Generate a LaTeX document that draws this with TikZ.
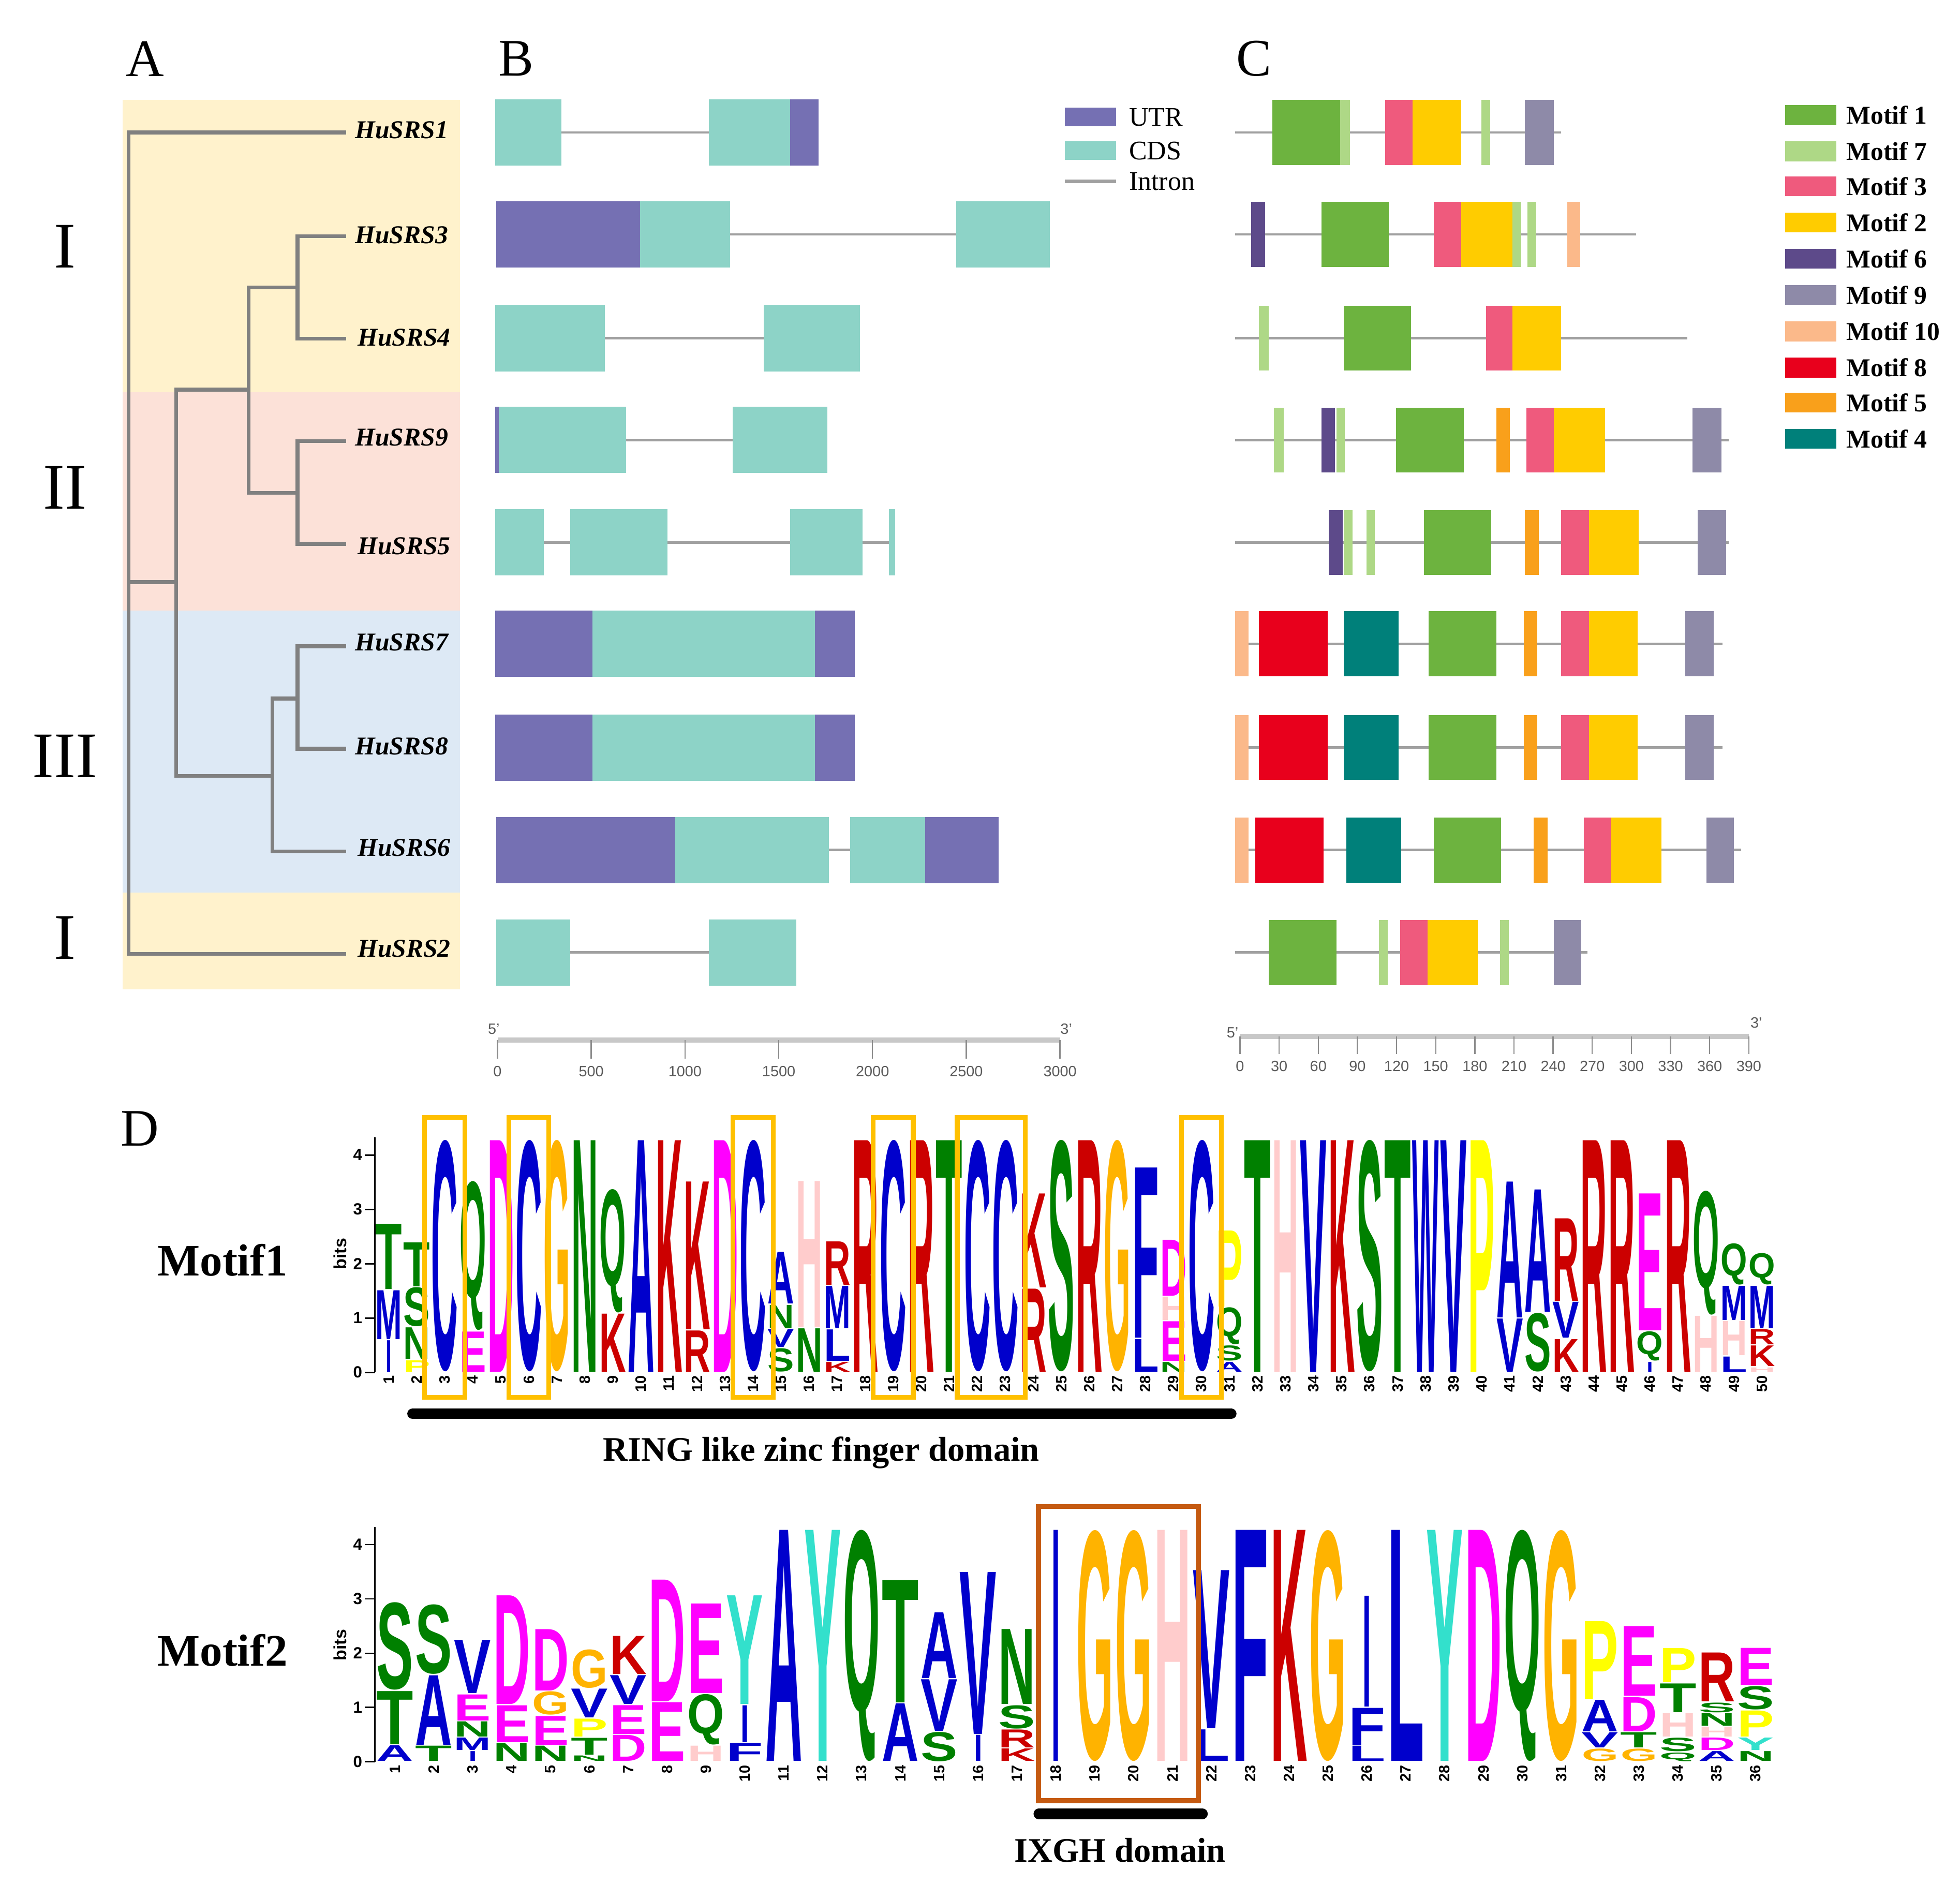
\documentclass[tikz,border=0pt]{standalone}
\usepackage{fontspec}
\usepackage{graphicx}
\setmainfont{Liberation Serif}
\setsansfont{Liberation Sans}
\newlength\un \setlength\un{0.25mm}
\newcommand\fs[1]{\fontsize{#1}{#1}\selectfont}
% logo colours
\definecolor{lb}{RGB}{0,0,204}
\definecolor{lg}{RGB}{0,128,0}
\definecolor{lr}{RGB}{204,0,0}
\definecolor{lm}{RGB}{255,0,255}
\definecolor{lo}{RGB}{255,179,0}
\definecolor{ly}{RGB}{255,255,0}
\definecolor{lp}{RGB}{255,204,204}
\definecolor{lt}{RGB}{51,224,204}
% other colours
\definecolor{bgY}{RGB}{255,242,204}
\definecolor{bgP}{RGB}{252,225,216}
\definecolor{bgB}{RGB}{221,233,245}
\definecolor{treegray}{RGB}{128,128,128}
\definecolor{utr}{RGB}{117,112,179}
\definecolor{cds}{RGB}{141,211,199}
\definecolor{introngray}{RGB}{160,160,160}
\definecolor{axgray}{RGB}{200,200,200}
\definecolor{tickgray}{RGB}{140,140,140}
\definecolor{axtext}{RGB}{90,90,90}
\definecolor{mA}{RGB}{109,179,63}
\definecolor{mG}{RGB}{174,216,134}
\definecolor{mC}{RGB}{239,90,125}
\definecolor{mB}{RGB}{255,204,0}
\definecolor{mF}{RGB}{93,74,138}
\definecolor{mI}{RGB}{142,138,168}
\definecolor{mJ}{RGB}{251,185,138}
\definecolor{mH}{RGB}{232,0,28}
\definecolor{mE}{RGB}{249,160,27}
\definecolor{mD}{RGB}{0,128,122}
\definecolor{boxO}{RGB}{255,192,0}
\definecolor{boxBr}{RGB}{197,90,17}
\tikzset{
  tree/.style={draw=treegray, line width=0.75mm},
  leaf/.style={font=\bfseries\itshape\fs{14.6}, anchor=west, inner sep=0pt},
  panel/.style={font=\fs{30}, inner sep=0pt},
  roman/.style={font=\fs{37}, inner sep=0pt},
  intron/.style={draw=introngray, line width=0.5mm},
  axisline/.style={draw=axgray, line width=1mm},
  tickline/.style={draw=tickgray, line width=0.25mm},
  axlab/.style={font=\sffamily\fs{8.5}, text=axtext, inner sep=0pt},
  legB/.style={font=\fs{15.3}, anchor=west, inner sep=0pt},
  legC/.style={font=\bfseries\fs{14.6}, anchor=west, inner sep=0pt},
  posn/.style={rotate=90, anchor=east, font=\sffamily\bfseries\fs{8.5}, inner sep=0pt},
  ticklab/.style={anchor=east, font=\sffamily\bfseries\fs{9.2}, inner sep=0pt},
  bitslab/.style={rotate=90, font=\sffamily\bfseries\fs{10}, inner sep=0pt},
  motiflab/.style={font=\bfseries\fs{25.6}, inner sep=0pt},
  domlab/.style={font=\bfseries\fs{19.6}, inner sep=0pt, text depth=0pt},
  obox/.style={draw=boxO, line width=0.95mm},
  bbox/.style={draw=boxBr, line width=1mm},
  dombar/.style={draw=black, line width=2.1mm, line cap=round},
}
% gene structure helpers
\newcommand\ex[4]{\fill[#1] (#2,#4-26.5) rectangle (#3,#4+26.5);}
\newcommand\mot[4]{\fill[#1] (#2,#4-26) rectangle (#3,#4+26);}
% logo column
\newcommand\logocol[4]{%
  \gdef\cumh{0}%
  \foreach \LHh/\LCc/\LLl in {#4}{%
    \ifnum\strcmp{\LLl}{I}=0 \def\wf{0.22}\else\def\wf{0.95}\fi
    \pgfmathsetmacro\ww{#3*\wf}%
    \pgfmathsetmacro\yb{#2-\cumh*43.45-0.45}%
    \pgfmathsetmacro\hp{max(\LHh*43.45-0.9,0.5)}%
    \node[inner sep=0pt,outer sep=0pt,anchor=south west,text=\LCc] at ({#1-\ww/2},\yb) {\resizebox*{\ww\un}{\hp\un}{\sffamily\bfseries\LLl}};%
    \pgfmathparse{\cumh+\LHh}\xdef\cumh{\pgfmathresult}%
  }%
}
\newcommand\mA[2]{\pgfmathsetmacro\xc{311+(#1-1)*22.42}\logocol{\xc}{1097.8}{22.42}{#2}\node[posn] (pa#1) at (\xc,1100) {#1};}
\newcommand\mB[2]{\pgfmathsetmacro\xc{316+(#1-1)*31.1}\logocol{\xc}{1409.4}{31.1}{#2}\node[posn] (pb#1) at (\xc,1412) {#1};}
\newcommand\yax[2]{%
  \draw[line width=0.3mm] (300,#1) -- (300,#1-188);
  \foreach \k in {0,...,4}{%
    \draw[line width=0.3mm] (292,#1-\k*43.45) -- (300,#1-\k*43.45);
    \node[ticklab] (t#2\k) at (290,#1-\k*43.45) {\k};}
}
\begin{document}
\begin{tikzpicture}[x=0.25mm,y=-0.25mm]
\useasboundingbox (0,0) rectangle (1568,1507);
\fill[white] (0,0) rectangle (1568,1507);

% ---------- panel labels
\node[panel] (lA) at (116,47) {A};
\node[panel] (lB) at (413,47) {B};
\node[panel] (lC) at (1003,47) {C};
\node[panel] (lD) at (112,903) {D};

% ---------- panel A backgrounds
\fill[bgY] (98,80) rectangle (368,313.7);
\fill[bgP] (98,313.7) rectangle (368,488.5);
\fill[bgB] (98,488.5) rectangle (368,714.2);
\fill[bgY] (98,714.2) rectangle (368,791.6);

\node[roman] (rI1) at (52,197) {I};
\node[roman] (rII) at (52,390) {II};
\node[roman] (rIII) at (52,605) {III};
\node[roman] (rI2) at (52,750) {I};

% tree
\coordinate (R) at (103,465.7);
\coordinate (N1) at (141,465.7);
\coordinate (N2) at (199,311.7);
\coordinate (N3) at (218,620.6);
\coordinate (N34) at (238,230);
\coordinate (N95) at (238,394.4);
\coordinate (N78) at (238,558.8);
\coordinate (e1) at (277,106);
\coordinate (e3) at (277,189);
\coordinate (e4) at (277,271);
\coordinate (e9) at (277,353);
\coordinate (e5) at (277,435);
\coordinate (e7) at (277,517);
\coordinate (e8) at (277,599);
\coordinate (e6) at (277,681);
\coordinate (e2) at (277,763);
\draw[tree] (R) |- (e1);
\draw[tree] (R) |- (e2);
\draw[tree] (R) -- (N1);
\draw[tree] (N1) |- (N2);
\draw[tree] (N1) |- (N3);
\draw[tree] (N2) |- (N34);
\draw[tree] (N2) |- (N95);
\draw[tree] (N34) |- (e3);
\draw[tree] (N34) |- (e4);
\draw[tree] (N95) |- (e9);
\draw[tree] (N95) |- (e5);
\draw[tree] (N3) |- (N78);
\draw[tree] (N3) |- (e6);
\draw[tree] (N78) |- (e7);
\draw[tree] (N78) |- (e8);
\node[leaf] (g1) at (284,104) {HuSRS1};
\node[leaf] (g3) at (284,188) {HuSRS3};
\node[leaf] (g4) at (286,270) {HuSRS4};
\node[leaf] (g9) at (284,350) {HuSRS9};
\node[leaf] (g5) at (286,437) {HuSRS5};
\node[leaf] (g7) at (284,514) {HuSRS7};
\node[leaf] (g8) at (284,597) {HuSRS8};
\node[leaf] (g6) at (286,678) {HuSRS6};
\node[leaf] (g2) at (286,759) {HuSRS2};

% ---------- panel B gene structures
% row 1
\draw[intron] (449,106) -- (567,106);
\ex{cds}{396}{449}{106}\ex{cds}{567}{632}{106}\ex{utr}{632}{655}{106}
% row 3
\draw[intron] (584,187.5) -- (765,187.5);
\ex{utr}{397}{512}{187.5}\ex{cds}{512}{584}{187.5}\ex{cds}{765}{840}{187.5}
% row 4
\draw[intron] (484,270.5) -- (611,270.5);
\ex{cds}{396}{484}{270.5}\ex{cds}{611}{688}{270.5}
% row 9
\draw[intron] (501,352) -- (586,352);
\ex{utr}{396}{399}{352}\ex{cds}{399}{501}{352}\ex{cds}{586}{662}{352}
% row 5
\draw[intron] (435,434) -- (711,434);
\ex{cds}{396}{435}{434}\ex{cds}{456}{534}{434}\ex{cds}{632}{690}{434}\ex{cds}{711}{716}{434}
% row 7
\ex{utr}{396}{474}{515}\ex{cds}{474}{652}{515}\ex{utr}{652}{684}{515}
% row 8
\ex{utr}{396}{474}{598}\ex{cds}{474}{652}{598}\ex{utr}{652}{684}{598}
% row 6
\draw[intron] (663,680) -- (680,680);
\ex{utr}{397}{540}{680}\ex{cds}{540}{663}{680}\ex{cds}{680}{740}{680}\ex{utr}{740}{799}{680}
% row 2
\draw[intron] (456,762) -- (567,762);
\ex{cds}{397}{456}{762}\ex{cds}{567}{637}{762}

% legend B
\fill[utr] (852,86) rectangle (893,101);
\fill[cds] (852,113) rectangle (893,128);
\draw[introngray, line width=0.75mm] (852,145) -- (893,145);
\node[legB] (lutr) at (903,94) {UTR};
\node[legB] (lcds) at (903,120.5) {CDS};
\node[legB] (lint) at (903,145) {Intron};

% axis B
\draw[axisline] (398,832) -- (848,832);
\foreach \v [count=\i from 0] in {0,500,1000,1500,2000,2500,3000}{
  \draw[tickline] (398+\i*75,832) -- (398+\i*75,847);
  \node[axlab] (bx\i) at (398+\i*75,857) {\v};
}
\node[axlab] (b5) at (395,823) {5'};
\node[axlab] (b3) at (853,823) {3'};

% ---------- panel C motifs
% row 1
\draw[intron] (988,106) -- (1249,106);
\mot{mA}{1018}{1072}{106}\mot{mG}{1072}{1080}{106}\mot{mC}{1108}{1130}{106}\mot{mB}{1130}{1169}{106}\mot{mG}{1185}{1192}{106}\mot{mI}{1220}{1243}{106}
% row 3
\draw[intron] (988,187.5) -- (1309,187.5);
\mot{mF}{1001}{1012}{187.5}\mot{mA}{1057}{1111}{187.5}\mot{mC}{1147}{1169}{187.5}\mot{mB}{1169}{1210}{187.5}\mot{mG}{1210}{1217}{187.5}\mot{mG}{1222}{1229}{187.5}\mot{mJ}{1254}{1264}{187.5}
% row 4
\draw[intron] (988,270.5) -- (1350,270.5);
\mot{mG}{1007}{1015}{270.5}\mot{mA}{1075}{1129}{270.5}\mot{mC}{1189}{1210}{270.5}\mot{mB}{1210}{1249}{270.5}
% row 9
\draw[intron] (988,352) -- (1383,352);
\mot{mG}{1019}{1027}{352}\mot{mF}{1057}{1068}{352}\mot{mG}{1069}{1076}{352}\mot{mA}{1117}{1171}{352}\mot{mE}{1197}{1208}{352}\mot{mC}{1221}{1243}{352}\mot{mB}{1243}{1284}{352}\mot{mI}{1354}{1377}{352}
% row 5
\draw[intron] (988,434) -- (1383,434);
\mot{mF}{1063}{1074}{434}\mot{mG}{1075}{1082}{434}\mot{mG}{1093}{1100}{434}\mot{mA}{1139}{1193}{434}\mot{mE}{1220}{1231}{434}\mot{mC}{1249}{1271}{434}\mot{mB}{1271}{1311}{434}\mot{mI}{1358}{1381}{434}
% row 7
\draw[intron] (988,515) -- (1378,515);
\mot{mJ}{988}{999}{515}\mot{mH}{1007}{1062}{515}\mot{mD}{1075}{1119}{515}\mot{mA}{1143}{1197}{515}\mot{mE}{1219}{1230}{515}\mot{mC}{1249}{1271}{515}\mot{mB}{1271}{1310}{515}\mot{mI}{1348}{1371}{515}
% row 8
\draw[intron] (988,598) -- (1378,598);
\mot{mJ}{988}{999}{598}\mot{mH}{1007}{1062}{598}\mot{mD}{1075}{1119}{598}\mot{mA}{1143}{1197}{598}\mot{mE}{1219}{1230}{598}\mot{mC}{1249}{1271}{598}\mot{mB}{1271}{1310}{598}\mot{mI}{1348}{1371}{598}
% row 6
\draw[intron] (988,680) -- (1393,680);
\mot{mJ}{988}{999}{680}\mot{mH}{1004}{1059}{680}\mot{mD}{1077}{1121}{680}\mot{mA}{1147}{1201}{680}\mot{mE}{1227}{1238}{680}\mot{mC}{1267}{1289}{680}\mot{mB}{1289}{1329}{680}\mot{mI}{1365}{1387}{680}
% row 2
\draw[intron] (988,762) -- (1270,762);
\mot{mA}{1015}{1069}{762}\mot{mG}{1103}{1110}{762}\mot{mC}{1120}{1142}{762}\mot{mB}{1142}{1182}{762}\mot{mG}{1200}{1207}{762}\mot{mI}{1243}{1265}{762}

% legend C
\foreach \c/\t/\yy [count=\i] in {mA/Motif 1/92, mG/Motif 7/121, mC/Motif 3/149, mB/Motif 2/178, mF/Motif 6/207, mI/Motif 9/236, mJ/Motif 10/265, mH/Motif 8/294, mE/Motif 5/322, mD/Motif 4/351}{
  \fill[\c] (1428,\yy-8) rectangle (1469,\yy+8);
  \node[legC] (lc\i) at (1477,\yy) {\t};
}

% axis C
\draw[axisline] (992,829) -- (1399,829);
\foreach \v [count=\i from 0] in {0,30,60,90,120,150,180,210,240,270,300,330,360,390}{
  \draw[tickline] (992+\i*31.31,829) -- (992+\i*31.31,843);
  \node[axlab] (cx\i) at (992+\i*31.31,853) {\v};
}
\node[axlab] (c5) at (986,826) {5'};
\node[axlab] (c3) at (1405,818) {3'};

% ---------- panel D, Motif 1
\node[motiflab] (ml1) at (178,1008) {Motif1};
\node[bitslab] (bits1) at (272,1003) {bits};
\yax{1097.8}{a}
\mA{1}{0.6/lb/I,0.92/lb/M,1.22/lg/T}
\mA{2}{0.23/ly/P,0.6/lg/N,0.74/lg/S,0.83/lg/T}
\mA{3}{4.28/lb/C}
\mA{4}{0.76/lm/E,2.76/lg/Q}
\mA{5}{4.28/lm/D}
\mA{6}{4.28/lb/C}
\mA{7}{4.28/lo/G}
\mA{8}{4.28/lg/N}
\mA{9}{1.09/lr/K,2.29/lg/Q}
\mA{10}{4.28/lb/A}
\mA{11}{4.28/lr/K}
\mA{12}{0.78/lr/R,2.74/lr/K}
\mA{13}{4.28/lm/D}
\mA{14}{4.28/lb/C}
\mA{15}{0.45/lg/S,0.35/lb/V,0.45/lg/N,0.97/lb/A}
\mA{16}{0.82/lg/N,2.7/lp/H}
\mA{17}{0.2/lr/K,0.6/lb/L,0.8/lb/M,0.82/lr/R}
\mA{18}{4.28/lr/R}
\mA{19}{4.28/lb/C}
\mA{20}{4.28/lr/R}
\mA{21}{4.28/lg/T}
\mA{22}{4.28/lb/C}
\mA{23}{4.28/lb/C}
\mA{24}{1.55/lr/R,1.75/lr/K}
\mA{25}{4.28/lg/S}
\mA{26}{4.28/lr/R}
\mA{27}{4.28/lo/G}
\mA{28}{0.62/lb/L,3.15/lb/F}
\mA{29}{0.2/lg/N,0.75/lm/E,0.45/lp/H,1.05/lm/D}
\mA{30}{4.28/lb/C}
\mA{31}{0.2/lb/A,0.3/lg/S,0.7/lg/Q,1.42/ly/P}
\mA{32}{4.28/lg/T}
\mA{33}{4.28/lp/H}
\mA{34}{4.28/lb/V}
\mA{35}{4.28/lr/K}
\mA{36}{4.28/lg/S}
\mA{37}{4.28/lg/T}
\mA{38}{4.28/lb/W}
\mA{39}{4.28/lb/V}
\mA{40}{4.28/ly/P}
\mA{41}{1.0/lb/V,2.52/lb/A}
\mA{42}{1.1/lg/S,2.27/lb/A}
\mA{43}{0.62/lr/K,0.68/lb/V,1.54/lr/R}
\mA{44}{4.28/lr/R}
\mA{45}{4.28/lr/R}
\mA{46}{0.2/lb/I,0.56/lg/Q,2.54/lm/E}
\mA{47}{4.28/lr/R}
\mA{48}{1.05/lp/H,2.3/lg/Q}
\mA{49}{0.3/lb/L,0.65/lp/H,0.65/lb/M,0.78/lg/Q}
\mA{50}{0.1/lp/H,0.4/lr/K,0.3/lr/R,0.8/lb/M,0.6/lg/Q}
% orange boxes
\draw[obox] (339.8,894) rectangle (371.8,1117.7);
\draw[obox] (407.1,894) rectangle (439.1,1117.7);
\draw[obox] (586.5,894) rectangle (618.5,1117.7);
\draw[obox] (698.6,894) rectangle (730.6,1117.7);
\draw[obox] (765.8,894) rectangle (820.3,1117.7);
\draw[obox] (945.2,894) rectangle (977.2,1117.7);
% domain bar
\coordinate (d1a) at (330,1131);
\coordinate (d1b) at (985,1131);
\draw[dombar] (d1a) -- (d1b);
\node[domlab] (dom1) at (657,1159) {RING like zinc finger domain};

% ---------- Motif 2
\node[motiflab] (ml2) at (178,1320) {Motif2};
\node[bitslab] (bits2) at (272,1316) {bits};
\yax{1409.4}{b}
\mB{1}{0.31/lb/A,1.0/lg/T,1.63/lg/S}
\mB{2}{0.3/lg/T,1.3/lb/A,1.3/lg/S}
\mB{3}{0.2/lb/I,0.25/lb/M,0.3/lg/N,0.5/lm/E,1.0/lb/V}
\mB{4}{0.35/lg/N,0.7/lm/E,2.02/lm/D}
\mB{5}{0.3/lg/N,0.55/lm/E,0.45/lo/G,1.15/lm/D}
\mB{6}{0.12/lg/N,0.33/lg/T,0.35/ly/P,0.55/lb/V,0.73/lo/G}
\mB{7}{0.5/lm/D,0.55/lm/E,0.55/lb/V,0.72/lr/K}
\mB{8}{1.1/lm/E,2.26/lm/D}
\mB{9}{0.3/lp/H,0.95/lg/Q,1.67/lm/E}
\mB{10}{0.35/lb/F,0.7/lb/I,2.02/lt/Y}
\mB{11}{4.27/lb/A}
\mB{12}{4.27/lt/Y}
\mB{13}{4.27/lg/Q}
\mB{14}{1.08/lb/A,2.27/lg/T}
\mB{15}{0.56/lg/S,0.97/lb/V,1.23/lb/A}
\mB{16}{0.5/lb/I,3.0/lb/V}
\mB{17}{0.25/lr/K,0.35/lr/R,0.45/lg/S,1.4/lg/N}
\mB{18}{4.27/lb/I}
\mB{19}{4.27/lo/G}
\mB{20}{4.27/lo/G}
\mB{21}{4.27/lp/H}
\mB{22}{0.6/lb/L,2.93/lb/V}
\mB{23}{4.27/lb/F}
\mB{24}{4.27/lr/K}
\mB{25}{4.27/lo/G}
\mB{26}{0.3/lb/L,0.7/lb/F,2.06/lb/I}
\mB{27}{4.27/lb/L}
\mB{28}{4.27/lt/Y}
\mB{29}{4.27/lm/D}
\mB{30}{4.27/lg/Q}
\mB{31}{4.27/lo/G}
\mB{32}{0.25/lo/G,0.3/lb/V,0.6/lb/A,1.45/ly/P}
\mB{33}{0.25/lo/G,0.3/lg/T,0.65/lm/D,1.3/lm/E}
\mB{34}{0.18/lg/Q,0.27/lg/S,0.45/lp/H,0.55/lg/T,0.65/ly/P}
\mB{35}{0.2/lb/A,0.25/lm/D,0.2/lp/H,0.25/lg/N,0.2/lg/S,0.92/lr/R}
\mB{36}{0.2/lg/N,0.25/lt/Y,0.5/ly/P,0.45/lg/S,0.7/lm/E}
\draw[bbox] (830.8,1205.2) rectangle (958.7,1440.6);
\coordinate (d2a) at (831,1451);
\coordinate (d2b) at (962,1451);
\draw[dombar] (d2a) -- (d2b);
\node[domlab] (dom2) at (896,1480) {IXGH domain};
\end{tikzpicture}
\end{document}
